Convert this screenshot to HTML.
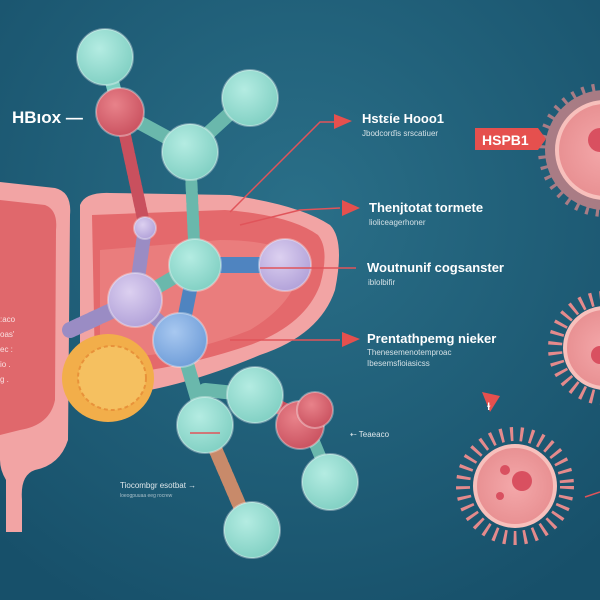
<!DOCTYPE html>
<html><head><meta charset="utf-8"><style>
html,body{margin:0;padding:0;width:600px;height:600px;overflow:hidden;background:#1c5670}
svg{display:block}
text{font-family:"Liberation Sans",sans-serif;fill:#fff}
</style></head><body>
<svg width="600" height="600" viewBox="0 0 600 600" xmlns="http://www.w3.org/2000/svg">
<defs>
<radialGradient id="bg" cx="0.5" cy="0.35" r="0.75">
<stop offset="0" stop-color="#2a6f88"/><stop offset="1" stop-color="#17506a"/></radialGradient>
<radialGradient id="tq" cx="0.4" cy="0.35" r="0.7"><stop offset="0" stop-color="#b4ece2"/><stop offset="1" stop-color="#7fcfc2"/></radialGradient>
<radialGradient id="lv" cx="0.4" cy="0.35" r="0.7"><stop offset="0" stop-color="#dcd0f0"/><stop offset="1" stop-color="#b0a0d8"/></radialGradient>
<radialGradient id="bl" cx="0.4" cy="0.35" r="0.7"><stop offset="0" stop-color="#a8c8f0"/><stop offset="1" stop-color="#6d9cd8"/></radialGradient>
<radialGradient id="rd" cx="0.4" cy="0.35" r="0.7"><stop offset="0" stop-color="#e8828a"/><stop offset="1" stop-color="#c9505e"/></radialGradient>
<radialGradient id="vr" cx="0.5" cy="0.5" r="0.5"><stop offset="0" stop-color="#f4a8aa"/><stop offset="1" stop-color="#e89092"/></radialGradient>
</defs>
<rect width="600" height="600" fill="url(#bg)"/>
<!-- left liver piece -->
<path d="M0,182 L55,188 Q72,192 70,215 L68,440 Q60,465 35,470 Q20,475 22,500 L22,532 L6,532 L6,480 Q0,470 0,460 Z" fill="#f2a4a4"/>
<path d="M0,200 L45,205 Q58,210 56,230 L55,400 Q50,425 20,430 L0,435 Z" fill="#e0686c"/>
<!-- main liver -->
<path d="M80,205 Q85,192 110,193 L230,195 Q300,205 330,225 Q345,240 335,290 Q320,335 260,355 Q200,380 150,390 Q120,400 100,395 Q82,390 80,370 Z" fill="#f2a4a4"/>
<path d="M92,215 L225,210 Q290,215 318,235 Q330,250 320,285 Q305,325 250,345 Q200,362 150,370 L95,370 Z" fill="#e4696c"/>
<path d="M100,250 L220,240 Q280,240 300,260 Q300,300 250,330 Q200,350 150,355 L100,355 Z" fill="#ef8a88" opacity="0.6"/>
<!-- orange blob -->
<ellipse cx="108" cy="378" rx="46" ry="44" fill="#f2ae4a"/>
<ellipse cx="112" cy="378" rx="34" ry="32" fill="#f5c060" stroke="#e8923a" stroke-width="2" stroke-dasharray="4 3"/>
<!-- bonds -->
<g stroke-linecap="round">
<line x1="105" y1="55" x2="120" y2="112" stroke="#7fcfc2" stroke-width="14"/>
<line x1="120" y1="112" x2="145" y2="228" stroke="#c9505e" stroke-width="12" stroke-dasharray="8 3"/>
<line x1="120" y1="112" x2="190" y2="150" stroke="#6ab8ac" stroke-width="14"/>
<line x1="250" y1="95" x2="190" y2="150" stroke="#6ab8ac" stroke-width="14"/>
<line x1="190" y1="150" x2="195" y2="265" stroke="#6ab8ac" stroke-width="12" stroke-dasharray="8 3"/>
<line x1="145" y1="228" x2="135" y2="300" stroke="#9a8cc4" stroke-width="14" stroke-dasharray="8 3"/>
<line x1="195" y1="265" x2="285" y2="265" stroke="#4f84c0" stroke-width="16"/>
<line x1="195" y1="265" x2="135" y2="300" stroke="#6ab8ac" stroke-width="14"/>
<line x1="135" y1="300" x2="70" y2="330" stroke="#9a8cc4" stroke-width="16" stroke-dasharray="7 3"/>
<line x1="135" y1="300" x2="180" y2="340" stroke="#9a8cc4" stroke-width="14"/>
<line x1="195" y1="265" x2="180" y2="340" stroke="#4f84c0" stroke-width="14"/>
<line x1="180" y1="340" x2="205" y2="425" stroke="#6ab8ac" stroke-width="14"/>
<line x1="205" y1="390" x2="255" y2="395" stroke="#6ab8ac" stroke-width="14"/>
<line x1="205" y1="425" x2="250" y2="530" stroke="#c88a6a" stroke-width="14" stroke-dasharray="8 3"/>
<line x1="255" y1="395" x2="305" y2="420" stroke="#c9505e" stroke-width="14"/>
<line x1="305" y1="420" x2="330" y2="480" stroke="#6ab8ac" stroke-width="12"/>
</g>
<!-- balls -->
<g stroke="#ffffff" stroke-opacity="0.35" stroke-width="2">
<circle cx="105" cy="57" r="28" fill="url(#tq)"/>
<circle cx="250" cy="98" r="28" fill="url(#tq)"/>
<circle cx="190" cy="152" r="28" fill="url(#tq)"/>
<circle cx="195" cy="265" r="26" fill="url(#tq)"/>
<circle cx="285" cy="265" r="26" fill="url(#lv)"/>
<circle cx="135" cy="300" r="27" fill="url(#lv)"/>
<circle cx="180" cy="340" r="27" fill="url(#bl)"/>
<circle cx="255" cy="395" r="28" fill="url(#tq)"/>
<circle cx="205" cy="425" r="28" fill="url(#tq)"/>
<circle cx="330" cy="482" r="28" fill="url(#tq)"/>
<circle cx="252" cy="530" r="28" fill="url(#tq)"/>
<circle cx="120" cy="112" r="24" fill="url(#rd)"/>
<circle cx="145" cy="228" r="11" fill="url(#lv)"/>
<circle cx="300" cy="425" r="24" fill="url(#rd)"/>
<circle cx="315" cy="410" r="18" fill="url(#rd)"/>
</g>
<!-- red connectors -->
<g stroke="#e0545a" stroke-width="1.5" fill="none">
<polyline points="230,212 320,122 335,122"/>
<polyline points="240,225 300,210 340,208"/>
<line x1="260" y1="268" x2="356" y2="268"/>
<line x1="230" y1="340" x2="340" y2="340"/>
<line x1="190" y1="433" x2="220" y2="433"/>
<line x1="585" y1="497" x2="600" y2="492"/>
</g>
<g fill="#e5504e">
<polygon points="334,114 352,121 334,129"/>
<polygon points="342,200 360,208 342,216"/>
<polygon points="342,332 360,339 342,347"/>
<polygon points="482,392 500,396 490,412"/>
</g>
<!-- viruses -->
<g>
<circle cx="605" cy="150" r="60" fill="#e48a8c" opacity="0.7" stroke="#e48a8c" stroke-width="14" stroke-dasharray="3 7"/>
<circle cx="605" cy="150" r="48" fill="url(#vr)" stroke="#f7c0bc" stroke-width="4"/>
<circle cx="600" cy="140" r="12" fill="#d95060"/>
<circle cx="605" cy="348" r="50" fill="none" stroke="#e48a8c" stroke-width="14" stroke-dasharray="3 7"/>
<circle cx="605" cy="348" r="40" fill="url(#vr)" stroke="#f7c0bc" stroke-width="4"/>
<circle cx="600" cy="355" r="9" fill="#d95060"/>
<circle cx="515" cy="486" r="52" fill="none" stroke="#e48a8c" stroke-width="14" stroke-dasharray="3 7"/>
<circle cx="515" cy="486" r="40" fill="url(#vr)" stroke="#f7c0bc" stroke-width="4"/>
<circle cx="522" cy="481" r="10" fill="#d95060"/>
<circle cx="505" cy="470" r="5" fill="#d95060"/>
<circle cx="500" cy="496" r="4" fill="#d95060"/>
</g>
<!-- HSPB1 tag -->
<polygon points="475,128 538,128 546,139 538,150 475,150" fill="#e5504e"/>
<text x="482" y="145" font-size="14" font-weight="bold">HSPB1</text>
<!-- labels -->
<text x="12" y="123" font-size="17" font-weight="bold">HBıox —</text>
<text x="362" y="123" font-size="13" font-weight="bold">Hstείe  Hooo1</text>
<text x="362" y="136" font-size="8" opacity="0.8">Jbodcorďis srscatiuer</text>
<text x="369" y="212" font-size="13" font-weight="bold">Thenjtotat tormete</text>
<text x="369" y="225" font-size="8" opacity="0.8">lioliceagerhoner</text>
<text x="367" y="272" font-size="13" font-weight="bold">Woutnunif cogsanster</text>
<text x="368" y="285" font-size="8" opacity="0.8">iblolbifir</text>
<text x="367" y="343" font-size="13" font-weight="bold">Prentathpemg nieker</text>
<text x="367" y="355" font-size="8" opacity="0.8">Thenesemenotemproac</text>
<text x="367" y="366" font-size="8" opacity="0.8">Ibesemsfioiasicss</text>
<text x="350" y="437" font-size="8" opacity="0.85">⇠ Teaeaco</text>
<text x="120" y="488" font-size="8" opacity="0.85">Tiocombgr esotbat →</text>
<text x="120" y="497" font-size="5" opacity="0.6">loeogpuuaa eeg rocrew</text>
<text x="0" y="322" font-size="8" opacity="0.8">:aco</text>
<text x="0" y="337" font-size="8" opacity="0.8">oas'</text>
<text x="0" y="352" font-size="8" opacity="0.8">ec :</text>
<text x="0" y="367" font-size="8" opacity="0.8">io .</text>
<text x="0" y="382" font-size="8" opacity="0.8">g .</text>
<text x="487" y="410" font-size="10" font-weight="bold" fill="#fff">ɫ</text>
</svg>
</body></html>
